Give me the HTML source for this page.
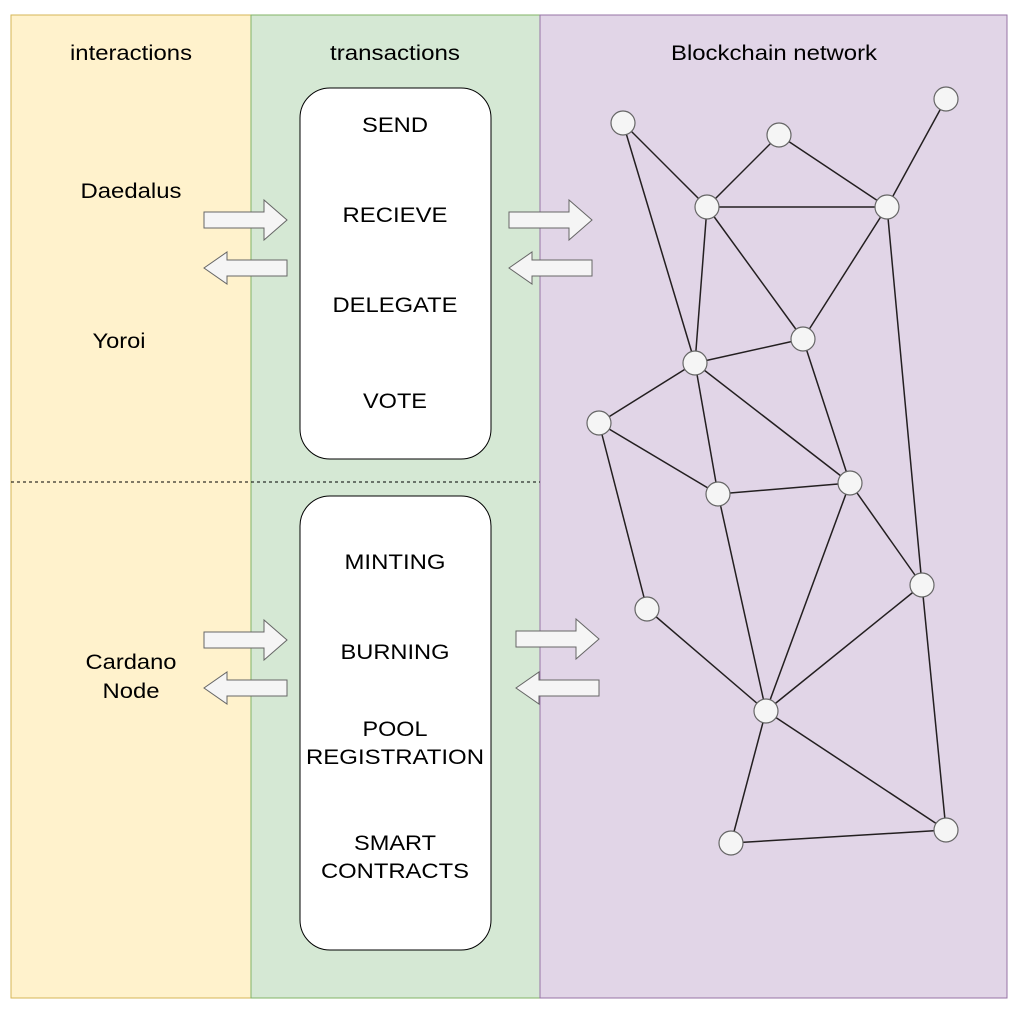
<!DOCTYPE html>
<html><head><meta charset="utf-8"><style>
body{margin:0;width:1023px;height:1015px;background:#fff;overflow:hidden}
text{font-family:"Liberation Sans",sans-serif;font-size:21px;fill:#000;text-anchor:middle}
</style></head><body>
<svg width="1023" height="1015" xmlns="http://www.w3.org/2000/svg">
<rect x="11" y="15" width="240" height="983" fill="#fff2cc" stroke="#d6b656"/>
<rect x="251" y="15" width="289" height="983" fill="#d5e8d4" stroke="#82b366"/>
<rect x="540" y="15" width="467" height="983" fill="#e1d5e7" stroke="#9673a6"/>
<line x1="11" y1="482" x2="540" y2="482" stroke="#000" stroke-dasharray="3,3"/>
<g lengthAdjust="spacingAndGlyphs">
<text x="131" y="60" textLength="122" lengthAdjust="spacingAndGlyphs">interactions</text>
<text x="395" y="60" textLength="130" lengthAdjust="spacingAndGlyphs">transactions</text>
<text x="774" y="60" textLength="206" lengthAdjust="spacingAndGlyphs">Blockchain network</text>
<text x="131" y="198" textLength="101" lengthAdjust="spacingAndGlyphs">Daedalus</text>
<text x="119" y="348" textLength="53" lengthAdjust="spacingAndGlyphs">Yoroi</text>
<text x="131" y="669" textLength="91" lengthAdjust="spacingAndGlyphs">Cardano</text>
<text x="131" y="698" textLength="57" lengthAdjust="spacingAndGlyphs">Node</text>
</g>
<rect x="300" y="88" width="191" height="371" rx="30" fill="#fff" stroke="#000"/>
<rect x="300" y="496" width="191" height="454" rx="30" fill="#fff" stroke="#000"/>
<text x="395" y="132" textLength="66" lengthAdjust="spacingAndGlyphs">SEND</text>
<text x="395" y="222" textLength="105" lengthAdjust="spacingAndGlyphs">RECIEVE</text>
<text x="395" y="312" textLength="125" lengthAdjust="spacingAndGlyphs">DELEGATE</text>
<text x="395" y="408" textLength="64" lengthAdjust="spacingAndGlyphs">VOTE</text>
<text x="395" y="569" textLength="101" lengthAdjust="spacingAndGlyphs">MINTING</text>
<text x="395" y="659" textLength="109" lengthAdjust="spacingAndGlyphs">BURNING</text>
<text x="395" y="736" textLength="65" lengthAdjust="spacingAndGlyphs">POOL</text>
<text x="395" y="764" textLength="178" lengthAdjust="spacingAndGlyphs">REGISTRATION</text>
<text x="395" y="850" textLength="82" lengthAdjust="spacingAndGlyphs">SMART</text>
<text x="395" y="878" textLength="148" lengthAdjust="spacingAndGlyphs">CONTRACTS</text>
<g fill="#f5f5f5" stroke="#666">
<path d="M204,212 H264 V200 L287,220 L264,240 V228 H204 Z"/>
<path d="M287,260 H227 V252 L204,268 L227,284 V276 H287 Z"/>
<path d="M509,212 H569 V200 L592,220 L569,240 V228 H509 Z"/>
<path d="M592,260 H532 V252 L509,268 L532,284 V276 H592 Z"/>
<path d="M204,632 H264 V620 L287,640 L264,660 V648 H204 Z"/>
<path d="M287,680 H227 V672 L204,688 L227,704 V696 H287 Z"/>
<path d="M516,631 H576 V619 L599,639 L576,659 V647 H516 Z"/>
<path d="M599,680 H539 V672 L516,688 L539,704 V696 H599 Z"/>
</g>
<g stroke="#231f20" stroke-width="1.5">
<line x1="623" y1="123" x2="707" y2="207"/><line x1="623" y1="123" x2="695" y2="363"/>
<line x1="779" y1="135" x2="707" y2="207"/><line x1="779" y1="135" x2="887" y2="207"/>
<line x1="946" y1="99" x2="887" y2="207"/><line x1="707" y1="207" x2="887" y2="207"/>
<line x1="707" y1="207" x2="695" y2="363"/><line x1="707" y1="207" x2="803" y2="339"/>
<line x1="887" y1="207" x2="803" y2="339"/><line x1="887" y1="207" x2="922" y2="585"/>
<line x1="695" y1="363" x2="803" y2="339"/><line x1="695" y1="363" x2="599" y2="423"/>
<line x1="695" y1="363" x2="718" y2="494"/><line x1="695" y1="363" x2="850" y2="483"/>
<line x1="803" y1="339" x2="850" y2="483"/><line x1="599" y1="423" x2="718" y2="494"/>
<line x1="599" y1="423" x2="647" y2="609"/><line x1="718" y1="494" x2="850" y2="483"/>
<line x1="718" y1="494" x2="766" y2="711"/><line x1="850" y1="483" x2="766" y2="711"/>
<line x1="850" y1="483" x2="922" y2="585"/><line x1="922" y1="585" x2="766" y2="711"/>
<line x1="922" y1="585" x2="946" y2="830"/><line x1="647" y1="609" x2="766" y2="711"/>
<line x1="766" y1="711" x2="731" y2="843"/><line x1="766" y1="711" x2="946" y2="830"/>
<line x1="731" y1="843" x2="946" y2="830"/>
</g>
<g fill="#f5f5f5" stroke="#666" stroke-width="1.2">
<circle cx="623" cy="123" r="12"/><circle cx="779" cy="135" r="12"/><circle cx="946" cy="99" r="12"/>
<circle cx="707" cy="207" r="12"/><circle cx="887" cy="207" r="12"/><circle cx="803" cy="339" r="12"/>
<circle cx="695" cy="363" r="12"/><circle cx="599" cy="423" r="12"/><circle cx="718" cy="494" r="12"/>
<circle cx="850" cy="483" r="12"/><circle cx="922" cy="585" r="12"/><circle cx="647" cy="609" r="12"/>
<circle cx="766" cy="711" r="12"/><circle cx="731" cy="843" r="12"/><circle cx="946" cy="830" r="12"/>
</g>
</svg>
</body></html>
